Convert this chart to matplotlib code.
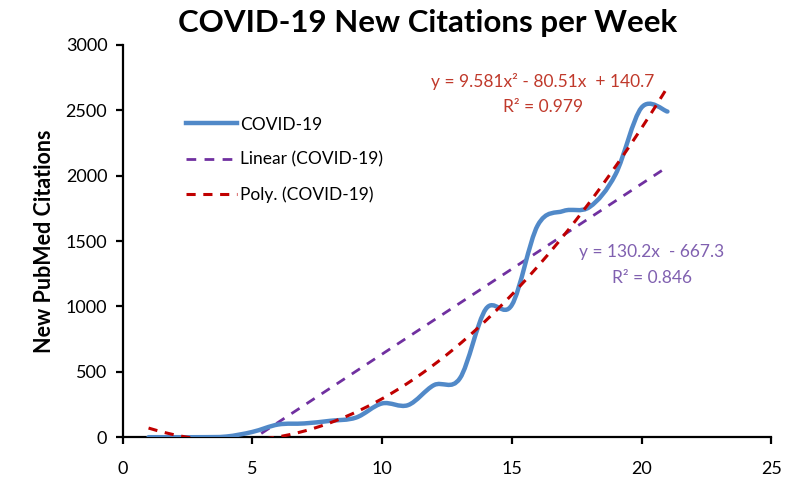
import numpy as np
import matplotlib
matplotlib.use("Agg")
import matplotlib.pyplot as plt
from matplotlib.path import Path
from matplotlib.patches import PathPatch
from matplotlib.lines import Line2D

plt.rcParams['font.family'] = ['Lato', 'DejaVu Sans']

# weekly data
weeks = [1, 2, 3, 4, 5, 6, 7, 8, 9, 10, 11, 12, 13, 14, 15, 16, 17, 18, 19, 20, 21]
citations = [0, 0, 0, 5, 40, 97, 105, 125, 150, 258, 245, 398, 450, 980, 1010,
             1620, 1730, 1760, 2010, 2520, 2490]

# trendline coefficients as printed on the chart
lin_coef = [130.2, -667.3]
poly_coef = [9.581, -80.51, 140.7]

blue = '#5189C8'
purple = '#7030A0'
red = '#C00000'


def smooth_path(x, y):
    # Excel-like smoothed line: cubic Bezier segments (Catmull-Rom tangents)
    pts = np.column_stack([x, y]).astype(float)
    n = len(pts)
    verts = [pts[0]]
    codes = [Path.MOVETO]
    for i in range(n - 1):
        p0 = pts[i - 1] if i > 0 else pts[i]
        p1 = pts[i]
        p2 = pts[i + 1]
        p3 = pts[i + 2] if i + 2 < n else pts[i + 1]
        c1 = p1 + (p2 - p0) / 6.0
        c2 = p2 - (p3 - p1) / 6.0
        verts += [c1, c2, p2]
        codes += [Path.CURVE4] * 3
    return Path(verts, codes)


fig = plt.figure(figsize=(7.91, 4.82), dpi=100)
ax = fig.add_axes([0.155, 0.093, 0.82, 0.814])

patch = PathPatch(smooth_path(weeks, citations), facecolor='none', edgecolor=blue,
                  linewidth=3.2, capstyle='round', joinstyle='round', zorder=3)
ax.add_patch(patch)

xs = np.array([weeks[0], weeks[-1]], dtype=float)
ax.plot(xs, np.polyval(lin_coef, xs), color=purple, linestyle=(0, (3.5, 3)),
        linewidth=2, zorder=2)
xp = np.linspace(weeks[0], weeks[-1], 200)
ax.plot(xp, np.polyval(poly_coef, xp), color=red, linestyle=(0, (3, 2.5)),
        linewidth=2.2, zorder=4)

ax.set_xlim(0, 25)
ax.set_ylim(0, 3000)
ax.set_xticks(range(0, 26, 5))
ax.set_yticks(range(0, 3001, 500))
ax.spines['top'].set_visible(False)
ax.spines['right'].set_visible(False)
for s in ('left', 'bottom'):
    ax.spines[s].set_linewidth(1.6)
ax.tick_params(direction='out', length=5, width=1.6, labelsize=13, colors='black')
ax.tick_params(axis='x', pad=12)
ax.tick_params(axis='y', pad=6)

ax.set_ylabel('New PubMed Citations', fontsize=15.5, fontweight='bold', labelpad=8)
fig.text(0.541, 0.952, 'COVID-19 New Citations per Week', ha='center', va='center',
         fontsize=22.5, fontweight='bold')

# equations
eq_red = '#C0392B'
eq_purple = '#8060B0'
ax.text(16.2, 2716, 'y = 9.581x² - 80.51x  + 140.7', color=eq_red, ha='center',
        va='center', fontsize=12.5)
ax.text(16.2, 2525, 'R² = 0.979', color=eq_red, ha='center', va='center', fontsize=12.5)
ax.text(20.4, 1415, 'y = 130.2x  - 667.3', color=eq_purple, ha='center', va='center',
        fontsize=12.5)
ax.text(20.4, 1217, 'R² = 0.846', color=eq_purple, ha='center', va='center', fontsize=12.5)

handles = [Line2D([], [], color=blue, linewidth=3.2),
           Line2D([], [], color=purple, linewidth=2, linestyle=(0, (3.5, 3))),
           Line2D([], [], color=red, linewidth=2.2, linestyle=(0, (3, 2.5)))]
ax.legend(handles, ['COVID-19', 'Linear (COVID-19)', 'Poly. (COVID-19)'],
          loc='upper left', bbox_to_anchor=(0.074, 0.857), frameon=False,
          fontsize=12.5, handlelength=2.9, handletextpad=0.2, labelspacing=1.1)

fig.savefig('out.png', dpi=100)
